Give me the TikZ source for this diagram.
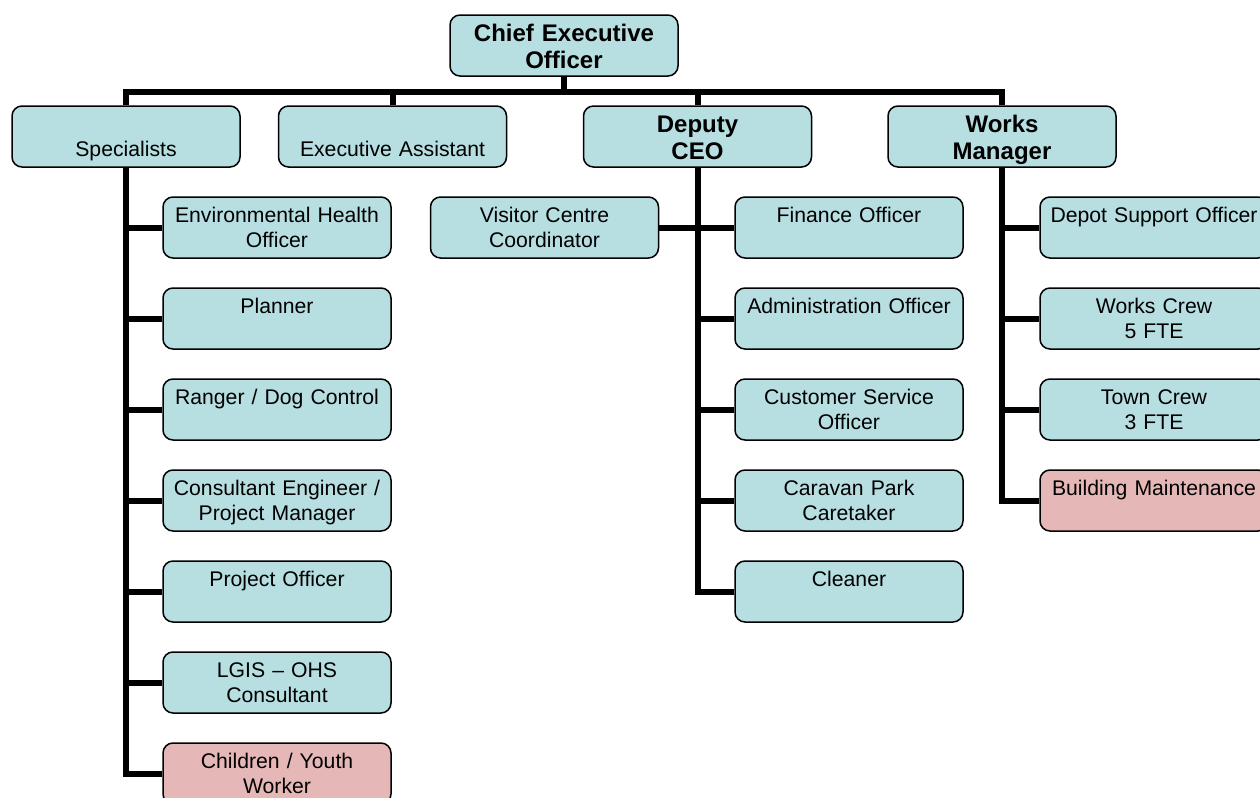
\documentclass[tikz,border=0pt]{standalone}
\usepackage{fontspec}
\setmainfont{Liberation Sans}
\usepackage{tikz}
\usetikzlibrary{shapes,arrows}
\definecolor{boxblue}{RGB}{183,222,225}
\definecolor{boxpink}{RGB}{229,184,183}
\tikzstyle{orgbox} = [rectangle, draw, line width=0.75pt, fill=boxblue,
    rounded corners=5pt, minimum width=114pt, minimum height=30.5pt,
    inner sep=0pt, text width=112pt, align=center,
    text height=8pt, text depth=13pt,
    font=\fontsize{10.6}{12.5}\selectfont]
\tikzstyle{headbox} = [orgbox, text height=9pt, text depth=13pt,
    font=\fontsize{12}{13.5}\selectfont\bfseries]
\tikzstyle{vacant} = [orgbox, fill=boxpink]
\tikzset{
  link/.style ={draw, line width=3pt}
}

\begin{document}
\begin{tikzpicture}[x=0.5pt, y=-0.5pt, node distance=45.5pt]
   \useasboundingbox (0,0) rectangle (1260,798);
   \clip (0,0) rectangle (1260,798);
   \node [headbox] (ceo) at (564,45.5) {Chief Executive\\Officer};
   \node [orgbox] (spec) at (126,136.5) {\mbox{}\\Specialists};
   \node [orgbox] (exec) at (392.5,136.5) {\mbox{}\\Executive Assistant};
   \node [headbox] (deputy) at (697.5,136.5) {Deputy\\CEO};
   \node [headbox] (works) at (1002,136.5) {Works\\Manager};
   % specialists
   \node [orgbox, below of=spec, xshift=75.5pt] (envhealth) {Environmental Health\\Officer};
   \node [orgbox, below of=envhealth] (planner) {Planner\\\mbox{}};
   \node [orgbox, below of=planner] (ranger) {Ranger / Dog Control\\\mbox{}};
   \node [orgbox, below of=ranger] (engineer) {Consultant Engineer /\\Project Manager};
   \node [orgbox, below of=engineer] (projofficer) {Project Officer\\\mbox{}};
   \node [orgbox, below of=projofficer] (lgis) {LGIS – OHS\\Consultant};
   \node [vacant, below of=lgis] (youth) {Children / Youth\\Worker};
   % deputy ceo
   \node [orgbox, below of=deputy, xshift=-76.5pt] (visitor) {Visitor Centre\\Coordinator};
   \node [orgbox, below of=deputy, xshift=75.75pt] (finance) {Finance Officer\\\mbox{}};
   \node [orgbox, below of=finance] (admin) {Administration Officer\\\mbox{}};
   \node [orgbox, below of=admin] (custserv) {Customer Service\\Officer};
   \node [orgbox, below of=custserv] (caravan) {Caravan Park\\Caretaker};
   \node [orgbox, below of=caravan] (cleaner) {Cleaner\\\mbox{}};
   % works manager
   \node [orgbox, below of=works, xshift=76pt] (depot) {Depot Support Officer\\\mbox{}};
   \node [orgbox, below of=depot] (workscrew) {Works Crew\\5 FTE};
   \node [orgbox, below of=workscrew] (towncrew) {Town Crew\\3 FTE};
   \node [vacant, below of=towncrew] (building) {Building Maintenance\\\mbox{}};
   % lines
   \coordinate (bar) at (564,92);
   \path [link] (ceo) -- (bar);
   \path [link] (spec.north) |- (bar);
   \path [link] (exec.north) |- (bar);
   \path [link] (deputy.north) |- (bar);
   \path [link] (works.north) |- (bar);
   \path [link] (spec.south) |- (envhealth.west);
   \path [link] (spec.south) |- (planner.west);
   \path [link] (spec.south) |- (ranger.west);
   \path [link] (spec.south) |- (engineer.west);
   \path [link] (spec.south) |- (projofficer.west);
   \path [link] (spec.south) |- (lgis.west);
   \path [link] (spec.south) |- (youth.west);
   \path [link] (visitor) -- (finance);
   \path [link] (deputy.south) |- (finance.west);
   \path [link] (deputy.south) |- (admin.west);
   \path [link] (deputy.south) |- (custserv.west);
   \path [link] (deputy.south) |- (caravan.west);
   \path [link] (deputy.south) |- (cleaner.west);
   \path [link] (works.south) |- (depot.west);
   \path [link] (works.south) |- (workscrew.west);
   \path [link] (works.south) |- (towncrew.west);
   \path [link] (works.south) |- (building.west);
\end{tikzpicture}
\end{document}
